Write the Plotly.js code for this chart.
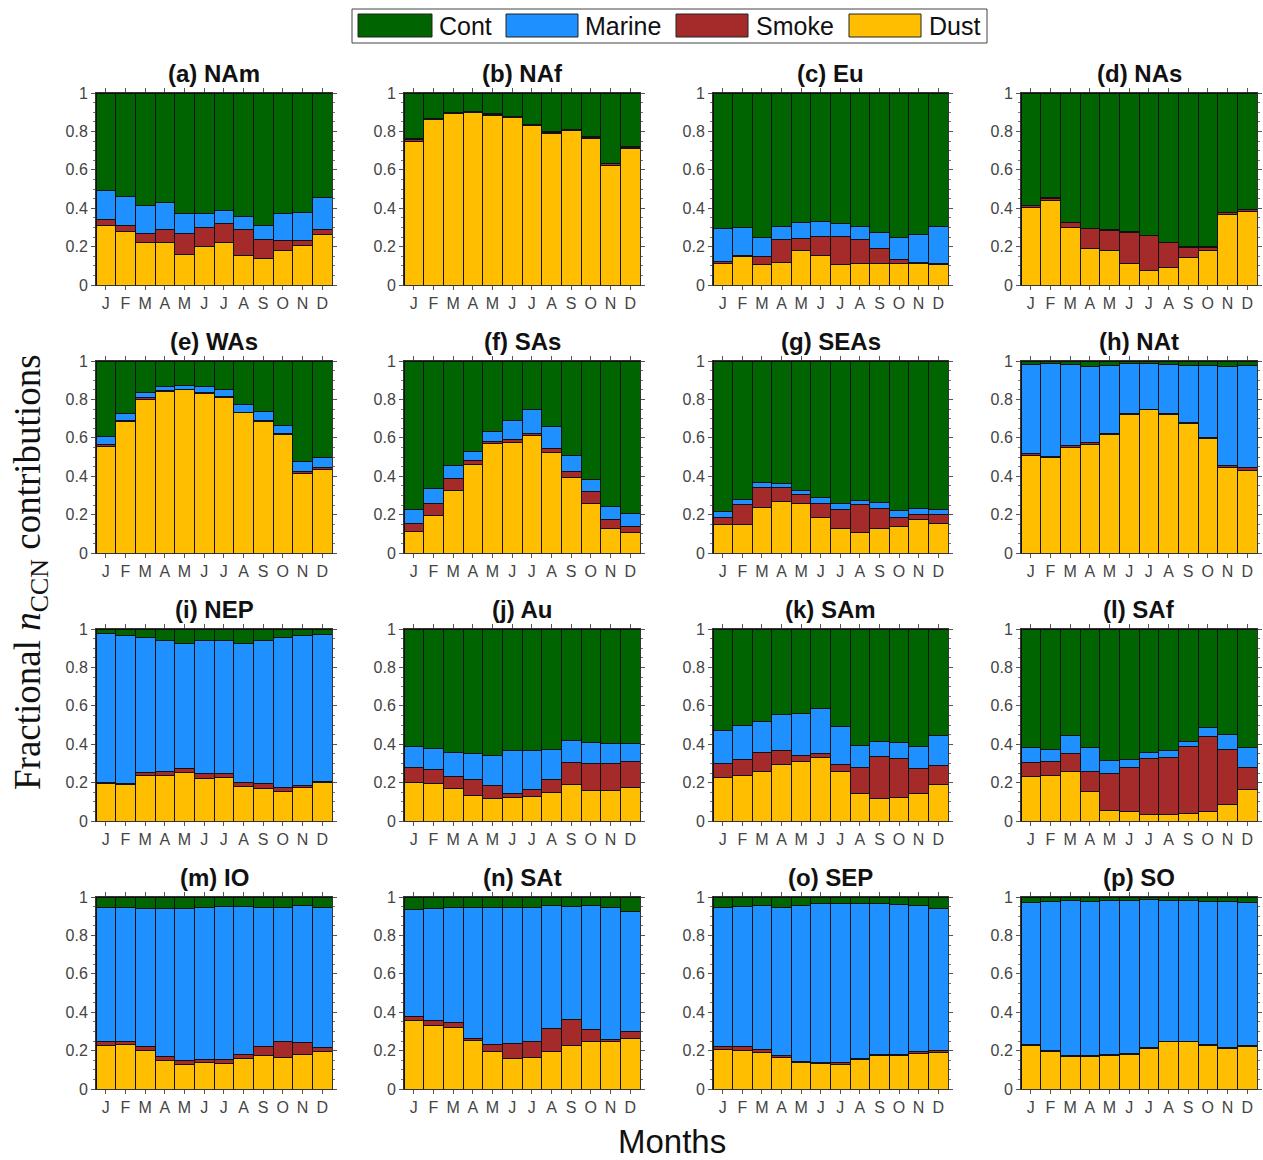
<!DOCTYPE html>
<html>
<head>
<meta charset="utf-8">
<script src="https://cdn.plot.ly/plotly-3.0.1.min.js"></script>
<style>html,body{margin:0;padding:0;background:#fff;}#chart{width:1263px;height:1160px;}</style>
</head>
<body>
<div id="chart"></div>
<script>
// ---------- data (fractions per month, Jan..Dec) ----------
const months = ["J","F","M","A","M","J","J","A","S","O","N","D"];
const seriesNames = ["Cont","Marine","Smoke","Dust"];
const panelTitles = ["(a) NAm","(b) NAf","(c) Eu","(d) NAs","(e) WAs","(f) SAs","(g) SEAs","(h) NAt",
                     "(i) NEP","(j) Au","(k) SAm","(l) SAf","(m) IO","(n) SAt","(o) SEP","(p) SO"];

const dust_NAm   = [0.31,0.28,0.22,0.22,0.16,0.20,0.22,0.155,0.14,0.18,0.205,0.265];
const smoke_NAm  = [0.03,0.03,0.05,0.07,0.11,0.10,0.10,0.135,0.095,0.05,0.025,0.025];
const marine_NAm = [0.15,0.15,0.145,0.14,0.105,0.075,0.07,0.065,0.075,0.14,0.15,0.165];
const cont_NAm   = [0.51,0.54,0.585,0.57,0.625,0.625,0.61,0.645,0.69,0.63,0.62,0.545];

const dust_NAf   = [0.75,0.86,0.895,0.90,0.885,0.87,0.83,0.79,0.805,0.765,0.62,0.71];
const smoke_NAf  = [0.01,0.005,0.004,0.004,0.005,0.005,0.005,0.005,0.005,0.005,0.012,0.007];
const marine_NAf = [0.002,0.002,0.002,0.002,0.002,0.002,0.002,0.002,0.002,0.002,0.002,0.002];
const cont_NAf   = [0.238,0.133,0.099,0.094,0.108,0.123,0.163,0.203,0.188,0.228,0.366,0.281];

const dust_Eu    = [0.112,0.147,0.109,0.119,0.178,0.154,0.109,0.112,0.112,0.11,0.11,0.107];
const smoke_Eu   = [0.008,0.005,0.041,0.118,0.066,0.10,0.145,0.123,0.076,0.021,0.006,0.007];
const marine_Eu  = [0.174,0.145,0.10,0.07,0.079,0.076,0.064,0.072,0.088,0.114,0.147,0.192];
const cont_Eu    = [0.706,0.703,0.75,0.693,0.677,0.67,0.682,0.693,0.724,0.755,0.737,0.694];

const dust_NAs   = [0.404,0.442,0.302,0.192,0.18,0.11,0.078,0.093,0.145,0.178,0.368,0.385];
const smoke_NAs  = [0.008,0.01,0.022,0.10,0.105,0.165,0.18,0.126,0.052,0.019,0.008,0.007];
const marine_NAs = [0.002,0.002,0.004,0.003,0.003,0.002,0.002,0.002,0.002,0.004,0.002,0.002];
const cont_NAs   = [0.586,0.546,0.672,0.705,0.712,0.723,0.74,0.779,0.801,0.799,0.622,0.606];

const dust_WAs   = [0.553,0.685,0.80,0.84,0.85,0.83,0.81,0.73,0.685,0.617,0.415,0.435];
const smoke_WAs  = [0.01,0.005,0.008,0.004,0.004,0.006,0.005,0.004,0.004,0.006,0.01,0.012];
const marine_WAs = [0.044,0.035,0.027,0.021,0.016,0.029,0.035,0.041,0.046,0.042,0.05,0.053];
const cont_WAs   = [0.393,0.275,0.165,0.135,0.13,0.135,0.15,0.225,0.265,0.335,0.525,0.50];

const dust_SAs   = [0.11,0.195,0.325,0.46,0.57,0.575,0.61,0.525,0.395,0.26,0.13,0.105];
const smoke_SAs  = [0.045,0.065,0.065,0.02,0.01,0.015,0.01,0.02,0.03,0.06,0.045,0.035];
const marine_SAs = [0.07,0.075,0.065,0.05,0.055,0.10,0.125,0.115,0.085,0.065,0.065,0.065];
const cont_SAs   = [0.775,0.665,0.545,0.47,0.365,0.31,0.255,0.34,0.49,0.615,0.76,0.795];

const dust_SEAs   = [0.15,0.15,0.236,0.267,0.259,0.184,0.128,0.105,0.128,0.138,0.173,0.152];
const smoke_SEAs  = [0.035,0.102,0.103,0.072,0.045,0.075,0.099,0.15,0.105,0.046,0.028,0.047];
const marine_SEAs = [0.032,0.026,0.028,0.025,0.021,0.028,0.032,0.021,0.031,0.035,0.03,0.03];
const cont_SEAs   = [0.783,0.722,0.633,0.636,0.675,0.713,0.741,0.724,0.736,0.781,0.769,0.771];

const dust_NAt   = [0.51,0.50,0.55,0.565,0.615,0.72,0.745,0.72,0.675,0.595,0.445,0.43];
const smoke_NAt  = [0.01,0.005,0.008,0.01,0.005,0.004,0.004,0.006,0.006,0.006,0.012,0.015];
const marine_NAt = [0.46,0.48,0.422,0.395,0.358,0.261,0.236,0.254,0.294,0.374,0.513,0.53];
const cont_NAt   = [0.02,0.015,0.02,0.03,0.022,0.015,0.015,0.02,0.025,0.025,0.03,0.025];

const dust_NEP   = [0.195,0.19,0.235,0.235,0.255,0.22,0.225,0.18,0.17,0.155,0.175,0.20];
const smoke_NEP  = [0.005,0.005,0.02,0.025,0.02,0.025,0.025,0.02,0.025,0.02,0.008,0.008];
const marine_NEP = [0.775,0.77,0.70,0.68,0.65,0.695,0.69,0.725,0.745,0.78,0.782,0.762];
const cont_NEP   = [0.025,0.035,0.045,0.06,0.075,0.06,0.06,0.075,0.06,0.045,0.035,0.03];

const dust_Au    = [0.20,0.195,0.17,0.135,0.115,0.125,0.13,0.15,0.19,0.16,0.16,0.175];
const smoke_Au   = [0.08,0.075,0.06,0.08,0.07,0.02,0.035,0.065,0.115,0.14,0.14,0.135];
const marine_Au  = [0.11,0.11,0.125,0.135,0.155,0.22,0.20,0.155,0.115,0.11,0.105,0.095];
const cont_Au    = [0.61,0.62,0.645,0.65,0.66,0.635,0.635,0.63,0.58,0.59,0.595,0.595];

const dust_SAm   = [0.225,0.235,0.26,0.295,0.31,0.33,0.26,0.145,0.115,0.12,0.145,0.19];
const smoke_SAm  = [0.075,0.085,0.095,0.07,0.03,0.02,0.035,0.135,0.22,0.205,0.13,0.10];
const marine_SAm = [0.17,0.175,0.165,0.19,0.22,0.235,0.195,0.115,0.08,0.085,0.115,0.155];
const cont_SAm   = [0.53,0.505,0.48,0.445,0.44,0.415,0.51,0.605,0.585,0.59,0.61,0.555];

const dust_SAf   = [0.23,0.235,0.26,0.155,0.055,0.05,0.035,0.035,0.04,0.05,0.085,0.165];
const smoke_SAf  = [0.075,0.075,0.09,0.105,0.19,0.23,0.29,0.295,0.35,0.39,0.285,0.115];
const marine_SAf = [0.08,0.065,0.095,0.125,0.07,0.04,0.03,0.035,0.025,0.045,0.08,0.105];
const cont_SAf   = [0.615,0.625,0.555,0.615,0.685,0.68,0.645,0.635,0.585,0.515,0.55,0.615];

const dust_IO    = [0.225,0.23,0.20,0.15,0.13,0.14,0.135,0.16,0.175,0.165,0.18,0.195];
const smoke_IO   = [0.02,0.02,0.02,0.02,0.02,0.015,0.02,0.02,0.045,0.08,0.06,0.02];
const marine_IO  = [0.70,0.695,0.72,0.77,0.79,0.79,0.795,0.77,0.725,0.70,0.715,0.73];
const cont_IO    = [0.055,0.055,0.06,0.06,0.06,0.055,0.05,0.05,0.055,0.055,0.045,0.055];

const dust_SAt   = [0.355,0.33,0.32,0.255,0.195,0.16,0.165,0.195,0.225,0.245,0.245,0.265];
const smoke_SAt  = [0.025,0.025,0.025,0.01,0.035,0.075,0.085,0.12,0.135,0.065,0.015,0.035];
const marine_SAt = [0.555,0.585,0.60,0.68,0.715,0.71,0.695,0.64,0.59,0.645,0.685,0.625];
const cont_SAt   = [0.065,0.06,0.055,0.055,0.055,0.055,0.055,0.045,0.05,0.045,0.055,0.075];

const dust_SEP   = [0.205,0.20,0.19,0.165,0.14,0.135,0.13,0.155,0.175,0.175,0.185,0.19];
const smoke_SEP  = [0.015,0.02,0.015,0.01,0.005,0.005,0.01,0.005,0.005,0.005,0.01,0.01];
const marine_SEP = [0.725,0.73,0.75,0.77,0.81,0.825,0.825,0.805,0.785,0.78,0.76,0.74];
const cont_SEP   = [0.055,0.05,0.045,0.055,0.045,0.035,0.035,0.035,0.035,0.04,0.045,0.06];

const dust_SO    = [0.225,0.195,0.17,0.17,0.175,0.18,0.21,0.245,0.245,0.225,0.21,0.22];
const smoke_SO   = [0.005,0.005,0.005,0.005,0.005,0.005,0.005,0.005,0.005,0.005,0.005,0.005];
const marine_SO  = [0.74,0.775,0.805,0.80,0.80,0.795,0.77,0.73,0.73,0.745,0.76,0.745];
const cont_SO    = [0.03,0.025,0.02,0.025,0.02,0.02,0.015,0.02,0.02,0.025,0.025,0.03];

// ---------- build table from arrays ----------
const panels = [
  [dust_NAm,smoke_NAm,marine_NAm,cont_NAm],
  [dust_NAf,smoke_NAf,marine_NAf,cont_NAf],
  [dust_Eu,smoke_Eu,marine_Eu,cont_Eu],
  [dust_NAs,smoke_NAs,marine_NAs,cont_NAs],
  [dust_WAs,smoke_WAs,marine_WAs,cont_WAs],
  [dust_SAs,smoke_SAs,marine_SAs,cont_SAs],
  [dust_SEAs,smoke_SEAs,marine_SEAs,cont_SEAs],
  [dust_NAt,smoke_NAt,marine_NAt,cont_NAt],
  [dust_NEP,smoke_NEP,marine_NEP,cont_NEP],
  [dust_Au,smoke_Au,marine_Au,cont_Au],
  [dust_SAm,smoke_SAm,marine_SAm,cont_SAm],
  [dust_SAf,smoke_SAf,marine_SAf,cont_SAf],
  [dust_IO,smoke_IO,marine_IO,cont_IO],
  [dust_SAt,smoke_SAt,marine_SAt,cont_SAt],
  [dust_SEP,smoke_SEP,marine_SEP,cont_SEP],
  [dust_SO,smoke_SO,marine_SO,cont_SO]
];

const colors = {Dust:"#FFBF00", Smoke:"#A52A2A", Marine:"#1E90FF", Cont:"#006400"};
const stackOrder = ["Dust","Smoke","Marine","Cont"];

const W = 1263, H = 1160;
const colX = [[96,332],[404,640],[713,948],[1021,1257]];
const rowY = [[93,285],[361,553],[629,821],[897,1089]];
const xIdx = months.map((m,i)=>i);

const traces = [];
const layout = {
  width: W, height: H,
  margin: {l:0,r:0,t:0,b:0},
  paper_bgcolor: "#fff", plot_bgcolor: "#fff",
  barmode: "stack", bargap: 0,
  showlegend: false,
  font: {family: "Liberation Sans, Arial, sans-serif", color: "#444"},
  annotations: [], shapes: []
};

panels.forEach((p, k) => {
  const r = Math.floor(k/4), c = k%4;
  const suf = k === 0 ? "" : String(k+1);
  stackOrder.forEach((name, s) => {
    traces.push({
      type: "bar", name: name, x: xIdx, y: p[s],
      xaxis: "x"+suf, yaxis: "y"+suf,
      marker: {color: colors[name], line: {color: "#111", width: 1}},
      showlegend: false, hoverinfo: "name+y"
    });
  });
  layout["xaxis"+suf] = {
    domain: [colX[c][0]/W, colX[c][1]/W],
    anchor: "y"+suf, range: [-0.5, 11.5],
    tickmode: "array", tickvals: xIdx, ticktext: months,
    ticks: "outside", ticklen: 4, tickcolor: "#555", tickwidth: 1,
    showline: true, linecolor: "#333", linewidth: 1, mirror: "ticks",
    showgrid: false, zeroline: false, fixedrange: true,
    tickfont: {size: 16, color: "#444"}
  };
  layout["yaxis"+suf] = {
    domain: [1 - rowY[r][1]/H, 1 - rowY[r][0]/H],
    anchor: "x"+suf, range: [0, 1],
    tickmode: "array", tickvals: [0,0.2,0.4,0.6,0.8,1], ticktext: ["0","0.2","0.4","0.6","0.8","1"],
    ticks: "outside", ticklen: 4, tickcolor: "#555", tickwidth: 1,
    minor: {dtick: 0.05, ticks: "outside", ticklen: 2, tickcolor: "#777", showgrid: false},
    showline: true, linecolor: "#333", linewidth: 1, mirror: "ticks",
    showgrid: false, zeroline: false, fixedrange: true,
    tickfont: {size: 16, color: "#444"}
  };
  layout.annotations.push({
    text: "<b>" + panelTitles[k] + "</b>",
    xref: "paper", yref: "paper",
    x: (colX[c][0]+colX[c][1])/2/W, y: 1 - (rowY[r][0]-4)/H,
    xanchor: "center", yanchor: "bottom", showarrow: false,
    font: {size: 24, color: "#111", family: "Liberation Sans, Arial, sans-serif"}
  });
});

// Axis titles
layout.annotations.push({
  text: "Fractional <i>n</i><sub>CCN</sub> contributions",
  xref: "paper", yref: "paper", x: 30/W, y: 1 - 572/H,
  xanchor: "center", yanchor: "middle", textangle: -90, showarrow: false,
  font: {size: 37, color: "#111", family: "Liberation Serif, Times New Roman, serif"}
});
layout.annotations.push({
  text: "Months",
  xref: "paper", yref: "paper", x: 672/W, y: 1 - 1141/H,
  xanchor: "center", yanchor: "middle", showarrow: false,
  font: {size: 33, color: "#111", family: "Liberation Sans, Arial, sans-serif"}
});

// Legend (drawn as a box with swatches and labels)
layout.shapes.push({type:"rect", xref:"paper", yref:"paper",
  x0: 352/W, x1: 987/W, y0: 1-43/H, y1: 1-9/H,
  line: {color:"#444", width:1}, fillcolor:"#fff"});
const legendItems = [["Cont",358,432,437],["Marine",506,578,583],["Smoke",676,748,754],["Dust",849,921,927]];
legendItems.forEach(([name,x0,x1,tx]) => {
  layout.shapes.push({type:"rect", xref:"paper", yref:"paper",
    x0: x0/W, x1: x1/W, y0: 1-37/H, y1: 1-14/H,
    line: {color:"#222", width:1}, fillcolor: colors[name]});
  layout.annotations.push({text: name, xref:"paper", yref:"paper",
    x: tx/W, y: 1-26/H, xanchor:"left", yanchor:"middle", showarrow:false,
    font:{size:25, color:"#111", family:"Liberation Sans, Arial, sans-serif"}});
});

Plotly.newPlot("chart", traces, layout, {staticPlot: true, displayModeBar: false});
</script>
</body>
</html>
